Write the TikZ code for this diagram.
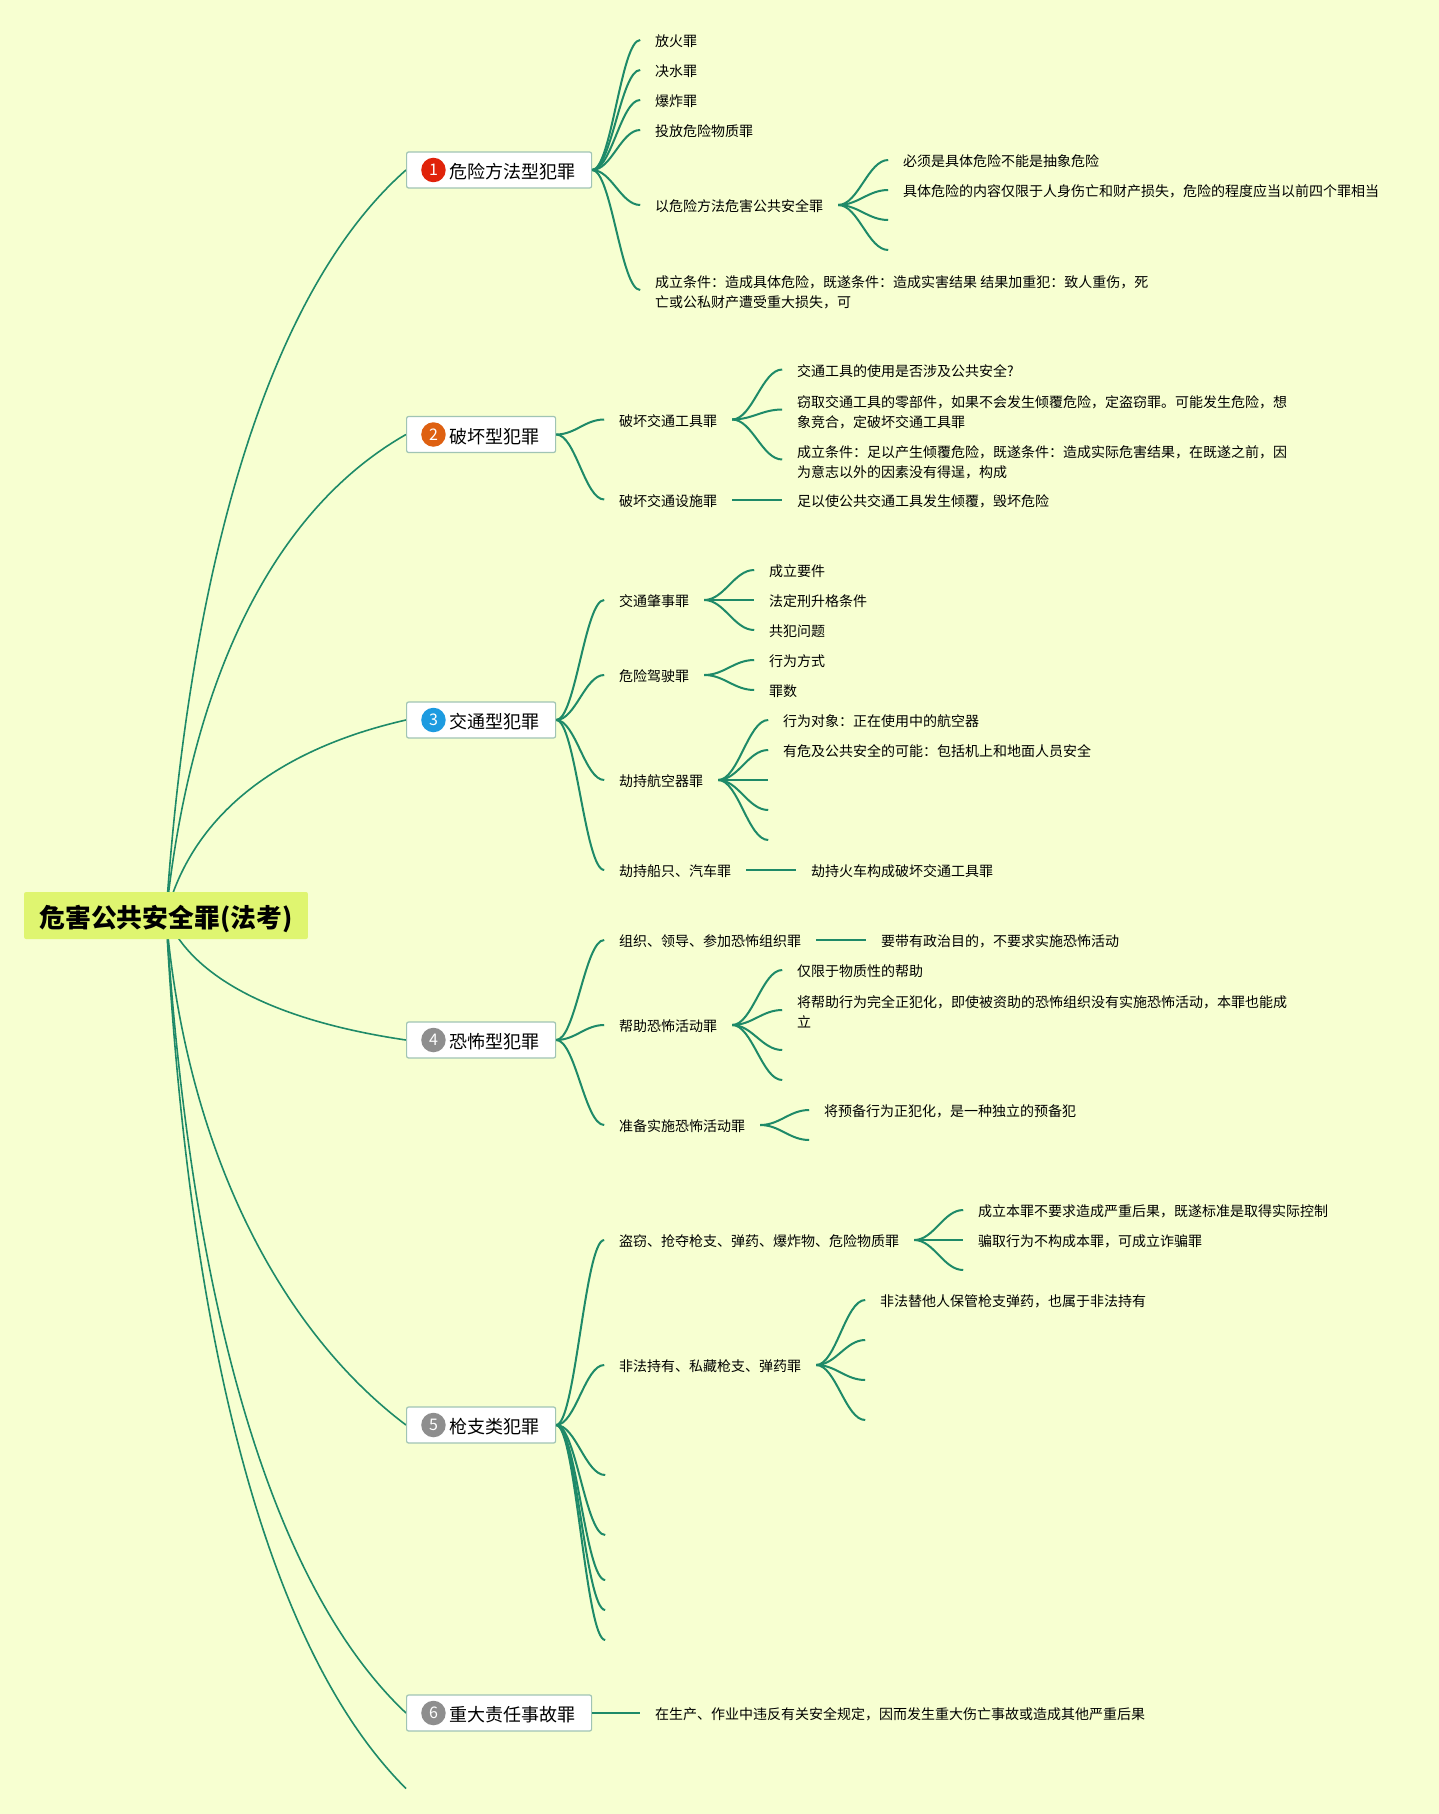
\documentclass[tikz,border=0pt]{standalone}
\usepackage{fontspec}
\setmainfont{Noto Sans CJK SC}
\usetikzlibrary{positioning, calc, backgrounds}
\definecolor{mapBack}{RGB}{247, 255, 209}
\definecolor{mapRoot}{RGB}{223, 245, 112}
\definecolor{mapLink}{RGB}{30, 138, 104}
\definecolor{mapEdge}{RGB}{160, 196, 180}
\definecolor{mapRed}{RGB}{224, 35, 10}
\definecolor{mapOrange}{RGB}{222, 96, 17}
\definecolor{mapBlue}{RGB}{29, 155, 224}
\definecolor{mapGrey}{RGB}{142, 142, 142}
\newcommand{\leafstrut}{\rule[-3.5pt]{0pt}{20pt}}
\newcommand{\tallrow}{\rule{0pt}{18.5pt}}

\begin{document}
\begin{tikzpicture}[
    x=1pt,
    y=-1pt,
    rootbox/.style={
        rectangle,
        rounded corners=2pt,
        fill=mapRoot,
        inner xsep=15.5pt,
        inner ysep=0pt,
        minimum height=47pt,
        text height=26pt,
        text depth=2pt,
        font=\fontsize{25.8}{30}\selectfont\bfseries
    },
    topic/.style={
        rectangle,
        rounded corners=2pt,
        draw=mapEdge,
        fill=white,
        line width=1.2pt,
        anchor=west,
        inner xsep=16pt,
        inner ysep=0pt,
        minimum height=36pt,
        text height=19pt,
        text depth=2pt,
        font=\fontsize{18}{22}\selectfont
    },
    badge/.style={
        circle,
        inner sep=0pt,
        minimum size=24.5pt,
        text=white,
        font=\fontsize{16}{18}\selectfont
    },
    leaf/.style={
        rectangle,
        inner xsep=15pt,
        inner ysep=5pt,
        outer sep=0pt,
        align=left,
        font=\fontsize{14}{20}\selectfont,
        execute at begin node=\leafstrut,
        execute at end node=\leafstrut
    },
    nextleaf/.style={
        below=0pt of #1.south west,
        anchor=north west
    },
    link/.style={
        draw=mapLink,
        line width=2pt
    },
    trunk/.style={
        draw=mapLink,
        line width=1.6pt
    },
    branch/.style={
        to path={.. controls ($(\tikztostart)!.4!(\tikztotarget |- \tikztostart)$) and ($(\tikztotarget)!.4!(\tikztostart |- \tikztotarget)$) .. (\tikztotarget)}
    }
]

\useasboundingbox (0,0) rectangle (1439,1814);
\begin{pgfonlayer}{background}
\fill[mapBack] (0,0) rectangle (1439,1814);
\end{pgfonlayer}

% Root
\node[rootbox] (root) at (166,915.5) {危害公共安全罪(法考)};

% Topics
\node[topic] (m1) at (406,170) {\hspace{27pt}危险方法型犯罪};
\node[topic] (m2) at (406,434.5) {\hspace{27pt}破坏型犯罪};
\node[topic] (m3) at (406,720) {\hspace{27pt}交通型犯罪};
\node[topic] (m4) at (406,1040) {\hspace{27pt}恐怖型犯罪};
\node[topic] (m5) at (406,1425) {\hspace{27pt}枪支类犯罪};
\node[topic] (m6) at (406,1713) {\hspace{27pt}重大责任事故罪};
\coordinate (m7) at (406,1788.5);

\node[badge, fill=mapRed, right=15pt of m1.west] (b1) {1};
\node[badge, fill=mapOrange, right=15pt of m2.west] (b2) {2};
\node[badge, fill=mapBlue, right=15pt of m3.west] (b3) {3};
\node[badge, fill=mapGrey, right=15pt of m4.west] (b4) {4};
\node[badge, fill=mapGrey, right=15pt of m5.west] (b5) {5};
\node[badge, fill=mapGrey, right=15pt of m6.west] (b6) {6};

% Topic 1
\node[leaf, right=48pt of m1, yshift=130pt] (fire) {放火罪};
\node[leaf, nextleaf=fire] (flood) {决水罪};
\node[leaf, nextleaf=flood] (blast) {爆炸罪};
\node[leaf, nextleaf=blast] (poison) {投放危险物质罪};
\node[leaf, right=48pt of m1, yshift=-35pt] (hazard) {以危险方法危害公共安全罪};
\node[leaf, right=48pt of m1, yshift=-120pt] (cond) {\tallrow 成立条件：造成具体危险，既遂条件：造成实害结果 结果加重犯：致人重伤，死\\亡或公私财产遭受重大损失，可};
\node[leaf, right=50pt of hazard, yshift=45pt] (hz1) {必须是具体危险不能是抽象危险};
\node[leaf, nextleaf=hz1] (hz2) {具体危险的内容仅限于人身伤亡和财产损失，危险的程度应当以前四个罪相当};
\coordinate[below=30pt of hz2.west] (hz3);
\coordinate[below=60pt of hz2.west] (hz4);

% Topic 2
\node[leaf, right=48pt of m2, yshift=15pt] (tool) {破坏交通工具罪};
\node[leaf, right=48pt of m2, yshift=-65pt] (facility) {破坏交通设施罪};
\node[leaf, right=50pt of tool, yshift=50pt] (tl1) {交通工具的使用是否涉及公共安全?};
\node[leaf, right=50pt of tool, yshift=10pt] (tl2) {\tallrow 窃取交通工具的零部件，如果不会发生倾覆危险，定盗窃罪。可能发生危险，想\\象竞合，定破坏交通工具罪};
\node[leaf, right=50pt of tool, yshift=-40pt] (tl3) {\tallrow 成立条件：足以产生倾覆危险，既遂条件：造成实际危害结果，在既遂之前，因\\为意志以外的因素没有得逞，构成};
\node[leaf, right=50pt of facility] (fc1) {足以使公共交通工具发生倾覆，毁坏危险};

% Topic 3
\node[leaf, right=48pt of m3, yshift=120pt] (crash) {交通肇事罪};
\node[leaf, right=48pt of m3, yshift=45pt] (drunk) {危险驾驶罪};
\node[leaf, right=48pt of m3, yshift=-60pt] (plane) {劫持航空器罪};
\node[leaf, right=48pt of m3, yshift=-150pt] (ship) {劫持船只、汽车罪};
\node[leaf, right=50pt of crash, yshift=30pt] (cr1) {成立要件};
\node[leaf, nextleaf=cr1] (cr2) {法定刑升格条件};
\node[leaf, nextleaf=cr2] (cr3) {共犯问题};
\node[leaf, right=50pt of drunk, yshift=15pt] (dr1) {行为方式};
\node[leaf, nextleaf=dr1] (dr2) {罪数};
\node[leaf, right=50pt of plane, yshift=60pt] (pl1) {行为对象：正在使用中的航空器};
\node[leaf, nextleaf=pl1] (pl2) {有危及公共安全的可能：包括机上和地面人员安全};
\coordinate[below=30pt of pl2.west] (pl3);
\coordinate[below=60pt of pl2.west] (pl4);
\coordinate[below=90pt of pl2.west] (pl5);
\node[leaf, right=50pt of ship] (sh1) {劫持火车构成破坏交通工具罪};

% Topic 4
\node[leaf, right=48pt of m4, yshift=100pt] (org) {组织、领导、参加恐怖组织罪};
\node[leaf, right=48pt of m4, yshift=15pt] (aid) {帮助恐怖活动罪};
\node[leaf, right=48pt of m4, yshift=-85pt] (prep) {准备实施恐怖活动罪};
\node[leaf, right=50pt of org] (og1) {要带有政治目的，不要求实施恐怖活动};
\node[leaf, right=50pt of aid, yshift=55pt] (ad1) {仅限于物质性的帮助};
\node[leaf, right=50pt of aid, yshift=15pt] (ad2) {\tallrow 将帮助行为完全正犯化，即使被资助的恐怖组织没有实施恐怖活动，本罪也能成\\立};
\coordinate[right=50pt of aid, yshift=-25pt] (ad3);
\coordinate[right=50pt of aid, yshift=-55pt] (ad4);
\node[leaf, right=49pt of prep, yshift=15pt] (pr1) {将预备行为正犯化，是一种独立的预备犯};
\coordinate[below=30pt of pr1.west] (pr2);

% Topic 5
\node[leaf, right=48pt of m5, yshift=185pt] (steal) {盗窃、抢夺枪支、弹药、爆炸物、危险物质罪};
\node[leaf, right=48pt of m5, yshift=60pt] (hold) {非法持有、私藏枪支、弹药罪};
\coordinate[right=49pt of m5, yshift=-50pt] (gun3);
\coordinate[right=49pt of m5, yshift=-110pt] (gun4);
\coordinate[right=49pt of m5, yshift=-155pt] (gun5);
\coordinate[right=49pt of m5, yshift=-185pt] (gun6);
\coordinate[right=49pt of m5, yshift=-215pt] (gun7);
\node[leaf, right=49pt of steal, yshift=30pt] (st1) {成立本罪不要求造成严重后果，既遂标准是取得实际控制};
\node[leaf, nextleaf=st1] (st2) {骗取行为不构成本罪，可成立诈骗罪};
\coordinate[below=30pt of st2.west] (st3);
\node[leaf, right=49pt of hold, yshift=65pt] (hd1) {非法替他人保管枪支弹药，也属于非法持有};
\coordinate[right=49pt of hold, yshift=25pt] (hd2);
\coordinate[right=49pt of hold, yshift=-15pt] (hd3);
\coordinate[right=49pt of hold, yshift=-55pt] (hd4);

% Topic 6
\node[leaf, right=48pt of m6] (duty) {在生产、作业中违反有关安全规定，因而发生重大伤亡事故或造成其他严重后果};

% Links
\begin{pgfonlayer}{background}
\draw[trunk] (root.center) .. controls (190,560) and (270,290) .. (m1.west);
\draw[trunk] (root.center) .. controls (190,685) and (270,512) .. (m2.west);
\draw[trunk] (root.center) .. controls (190,821) and (270,751) .. (m3.west);
\draw[trunk] (root.center) .. controls (190,975) and (270,1020) .. (m4.west);
\draw[trunk] (root.center) .. controls (186,1150) and (280,1330) .. (m5.west);
\draw[trunk] (root.center) .. controls (190,1298) and (270,1585) .. (m6.west);
\draw[trunk] (root.center) .. controls (188,1334) and (265,1648) .. (m7);
\end{pgfonlayer}

\draw[link] (m1.east) to[branch] (fire.west);
\draw[link] (m1.east) to[branch] (flood.west);
\draw[link] (m1.east) to[branch] (blast.west);
\draw[link] (m1.east) to[branch] (poison.west);
\draw[link] (m1.east) to[branch] (hazard.west);
\draw[link] (m1.east) to[branch] (cond.west);
\draw[link] (hazard.east) to[branch] (hz1.west);
\draw[link] (hazard.east) to[branch] (hz2.west);
\draw[link] (hazard.east) to[branch] (hz3);
\draw[link] (hazard.east) to[branch] (hz4);

\draw[link] (m2.east) to[branch] (tool.west);
\draw[link] (m2.east) to[branch] (facility.west);
\draw[link] (tool.east) to[branch] (tl1.west);
\draw[link] (tool.east) to[branch] (tl2.west);
\draw[link] (tool.east) to[branch] (tl3.west);
\draw[link] (facility.east) -- (fc1.west);

\draw[link] (m3.east) to[branch] (crash.west);
\draw[link] (m3.east) to[branch] (drunk.west);
\draw[link] (m3.east) to[branch] (plane.west);
\draw[link] (m3.east) to[branch] (ship.west);
\draw[link] (crash.east) to[branch] (cr1.west);
\draw[link] (crash.east) -- (cr2.west);
\draw[link] (crash.east) to[branch] (cr3.west);
\draw[link] (drunk.east) to[branch] (dr1.west);
\draw[link] (drunk.east) to[branch] (dr2.west);
\draw[link] (plane.east) to[branch] (pl1.west);
\draw[link] (plane.east) to[branch] (pl2.west);
\draw[link] (plane.east) -- (pl3);
\draw[link] (plane.east) to[branch] (pl4);
\draw[link] (plane.east) to[branch] (pl5);
\draw[link] (ship.east) -- (sh1.west);

\draw[link] (m4.east) to[branch] (org.west);
\draw[link] (m4.east) to[branch] (aid.west);
\draw[link] (m4.east) to[branch] (prep.west);
\draw[link] (org.east) -- (og1.west);
\draw[link] (aid.east) to[branch] (ad1.west);
\draw[link] (aid.east) to[branch] (ad2.west);
\draw[link] (aid.east) to[branch] (ad3);
\draw[link] (aid.east) to[branch] (ad4);
\draw[link] (prep.east) to[branch] (pr1.west);
\draw[link] (prep.east) to[branch] (pr2);

\draw[link] (m5.east) to[branch] (steal.west);
\draw[link] (m5.east) to[branch] (hold.west);
\draw[link] (m5.east) to[branch] (gun3);
\draw[link] (m5.east) to[branch] (gun4);
\draw[link] (m5.east) to[branch] (gun5);
\draw[link] (m5.east) to[branch] (gun6);
\draw[link] (m5.east) to[branch] (gun7);
\draw[link] (steal.east) to[branch] (st1.west);
\draw[link] (steal.east) -- (st2.west);
\draw[link] (steal.east) to[branch] (st3);
\draw[link] (hold.east) to[branch] (hd1.west);
\draw[link] (hold.east) to[branch] (hd2);
\draw[link] (hold.east) to[branch] (hd3);
\draw[link] (hold.east) to[branch] (hd4);

\draw[link] (m6.east) -- (duty.west);

\end{tikzpicture}
\end{document}
